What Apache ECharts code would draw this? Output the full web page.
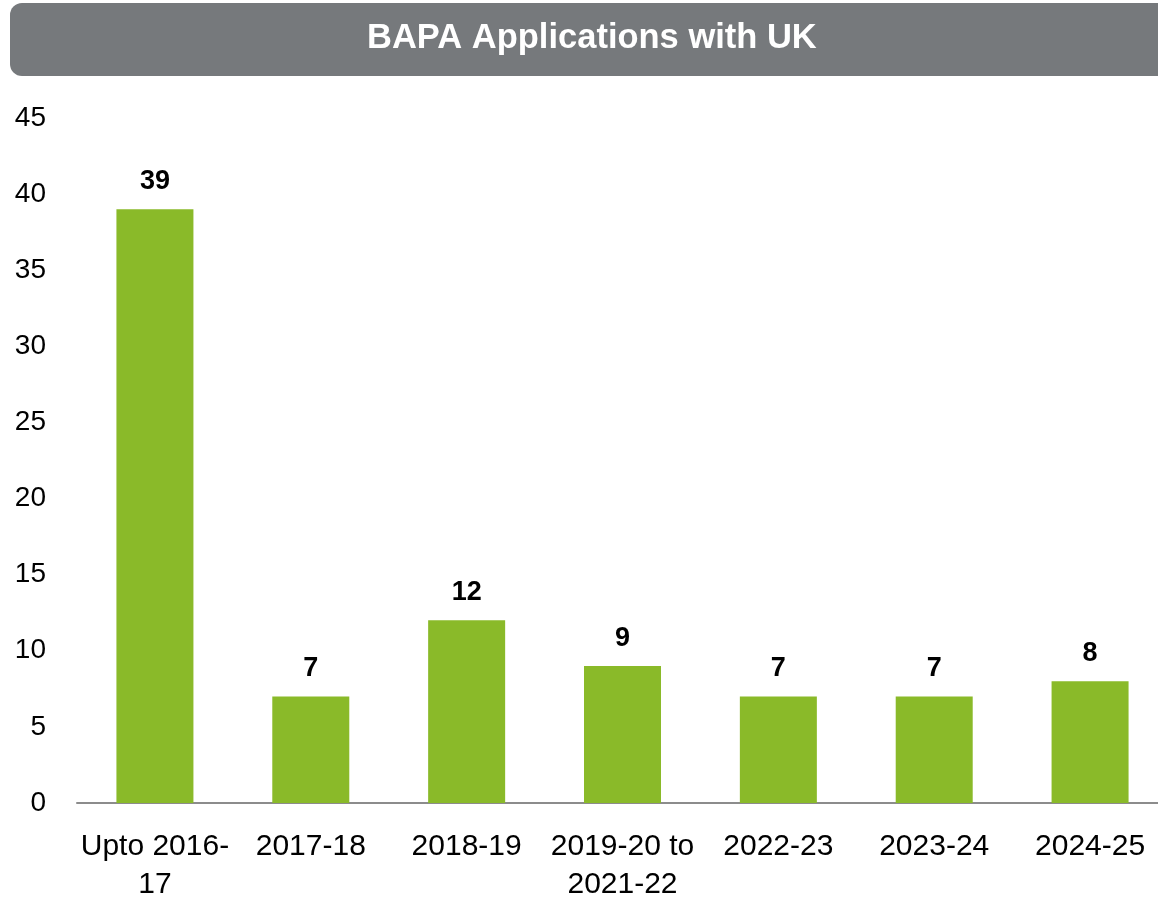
<!DOCTYPE html>
<html>
<head>
<meta charset="utf-8">
<script src="https://cdn.jsdelivr.net/npm/echarts@6/dist/echarts.min.js"></script>
<style>
  html, body { margin: 0; padding: 0; background: #fff; overflow: hidden; }
  #chart { width: 1170px; height: 921px; }
</style>
</head>
<body>
<div id="chart"></div>
<script>
var categories = ["Upto 2016-\n17", "2017-18", "2018-19", "2019-20 to\n2021-22", "2022-23", "2023-24", "2024-25"];
var applications = [39, 7, 12, 9, 7, 7, 8];

var chart = echarts.init(document.getElementById("chart"));
chart.setOption({
  animation: false,
  textStyle: { fontFamily: "Liberation Sans, Arial, sans-serif" },
  graphic: [
    {
      type: "rect",
      left: 10, top: 3,
      shape: { width: 1170, height: 73, r: 12 },
      style: { fill: "#76797c" }
    },
    {
      type: "text",
      left: 367, top: 21,
      style: {
        text: "BAPA Applications with UK",
        fill: "#fff",
        font: "bold 34.5px 'Liberation Sans', Arial, sans-serif"
      }
    }
  ],
  grid: { left: 77, top: 118, width: 1091, bottom: 118, containLabel: false },
  xAxis: {
    type: "category",
    data: categories,
    axisLine: { lineStyle: { color: "#8c8c8c", width: 2 } },
    axisTick: { show: false },
    axisLabel: { color: "#000", fontSize: 30, margin: 25, lineHeight: 38, interval: 0 }
  },
  yAxis: {
    type: "value",
    min: 0, max: 45, interval: 5,
    splitLine: { show: false },
    axisLine: { show: false },
    axisTick: { show: false },
    axisLabel: { color: "#000", fontSize: 28, margin: 31 }
  },
  series: [{
    type: "bar",
    data: applications,
    barWidth: 77,
    itemStyle: { color: "#8aba29" },
    label: {
      show: true,
      position: "top",
      distance: 14,
      color: "#000",
      fontWeight: "bold",
      fontSize: 27
    }
  }]
});
</script>
</body>
</html>
